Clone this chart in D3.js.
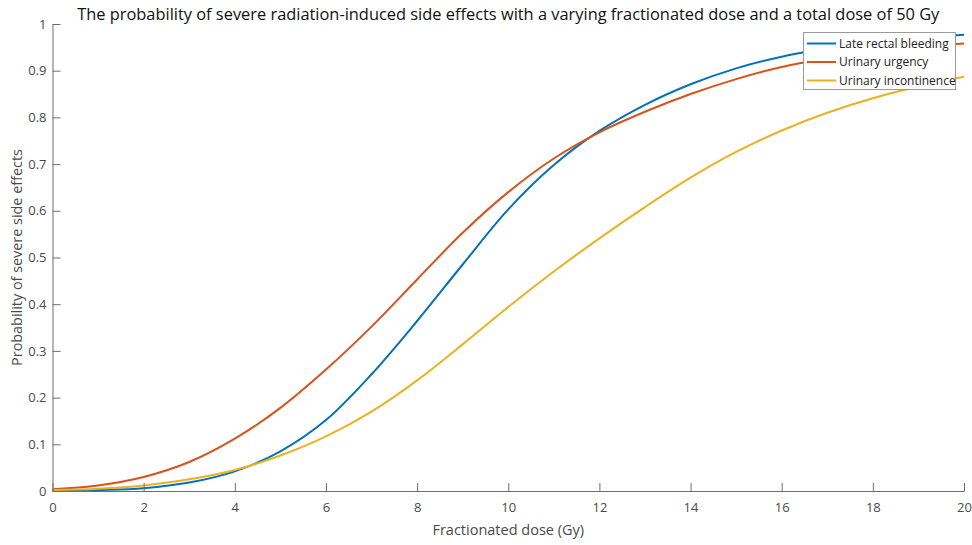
<!DOCTYPE html>
<html>
<head>
<meta charset="utf-8">
<script src="https://cdn.jsdelivr.net/npm/d3@7"></script>
<style>
  html, body { margin: 0; padding: 0; background: #fff; }
  svg { display: block; font-family: "Open Sans", "Noto Sans", sans-serif; }
</style>
</head>
<body>
<svg id="chart" width="972" height="545"></svg>
<script>
const titleText = "The probability of severe radiation-induced side effects with a varying fractionated dose and a total dose of 50 Gy";
const xLabel = "Fractionated dose (Gy)";
const yLabel = "Probability of severe side effects";
const seriesNames = ["Late rectal bleeding", "Urinary urgency", "Urinary incontinence"];
const seriesColors = ["#0072BD", "#D95319", "#EDB120"];

const doses = [0, 1, 2, 3, 4, 5, 6, 7, 8, 9, 10, 11, 12, 13, 14, 15, 16, 17, 18, 19, 20];
const lateRectalBleeding = [0.000, 0.002, 0.006, 0.018, 0.042, 0.085, 0.152, 0.250, 0.364, 0.485, 0.603, 0.698, 0.771, 0.827, 0.871, 0.905, 0.930, 0.948, 0.961, 0.970, 0.977];
const urinaryUrgency     = [0.004, 0.012, 0.030, 0.062, 0.112, 0.178, 0.260, 0.352, 0.453, 0.553, 0.640, 0.712, 0.768, 0.812, 0.850, 0.882, 0.908, 0.926, 0.940, 0.950, 0.958];
const urinaryIncontinence= [0.002, 0.005, 0.012, 0.025, 0.045, 0.076, 0.117, 0.170, 0.237, 0.314, 0.394, 0.470, 0.541, 0.608, 0.671, 0.726, 0.772, 0.810, 0.841, 0.866, 0.887];

const xTicks = [0, 2, 4, 6, 8, 10, 12, 14, 16, 18, 20];
const yTicks = [0, 0.1, 0.2, 0.3, 0.4, 0.5, 0.6, 0.7, 0.8, 0.9, 1];

const seriesValues = [lateRectalBleeding, urinaryUrgency, urinaryIncontinence];

(function () {
const svg = d3.select("#chart");
const mLeft = 52.5, mRight = 964, mTop = 24, mBottom = 491;
const x = d3.scaleLinear().domain([0, 20]).range([mLeft, mRight]);
const y = d3.scaleLinear().domain([0, 1]).range([mBottom, mTop]);
const axisColor = "#6e6e6e";
const textColor = "#4a4a4a";

// Lines
const line = d3.line().x(d => x(d[0])).y(d => y(d[1])).curve(d3.curveCatmullRom.alpha(0.5));
seriesValues.forEach((vals, i) => {
  svg.append("path")
    .datum(doses.map((d, j) => [d, vals[j]]))
    .attr("fill", "none")
    .attr("stroke", seriesColors[i])
    .attr("stroke-width", 2)
    .attr("d", line);
});

// Axes (ticks inward)
const xAxis = d3.axisBottom(x).tickValues(xTicks).tickSizeInner(-8).tickSizeOuter(0).tickPadding(12).tickFormat(d3.format("d"));
const yAxis = d3.axisLeft(y).tickValues(yTicks).tickSizeInner(-8).tickSizeOuter(0).tickPadding(12).tickFormat(d => d === 0 || d === 1 ? String(d) : d3.format(".1f")(d));

const gx = svg.append("g").attr("transform", `translate(0,${mBottom})`).call(xAxis);
const gy = svg.append("g").attr("transform", `translate(${mLeft},0)`).call(yAxis);
[gx, gy].forEach(g => {
  g.select(".domain").attr("stroke", axisColor).attr("stroke-width", 1);
  g.selectAll(".tick line").attr("stroke", axisColor).attr("stroke-width", 1);
  g.selectAll(".tick text").attr("fill", textColor).attr("font-size", 13)
    .attr("font-family", "'Open Sans', 'Noto Sans', sans-serif");
});
gy.selectAll(".tick text").attr("dx", 6);

// Title
svg.append("text")
  .attr("x", (mLeft + mRight) / 2).attr("y", 20)
  .attr("text-anchor", "middle")
  .attr("font-size", 16.4)
  .attr("fill", "#111")
  .text(titleText);

// Axis labels
svg.append("text")
  .attr("x", (mLeft + mRight) / 2).attr("y", 535)
  .attr("text-anchor", "middle")
  .attr("font-size", 14.5)
  .attr("fill", textColor)
  .text(xLabel);

svg.append("text")
  .attr("transform", `translate(22,${(mTop + mBottom) / 2}) rotate(-90)`)
  .attr("text-anchor", "middle")
  .attr("font-size", 14.4)
  .attr("fill", textColor)
  .text(yLabel);

// Legend
const lg = svg.append("g");
lg.append("rect")
  .attr("x", 803.5).attr("y", 32.5).attr("width", 152).attr("height", 57)
  .attr("fill", "#fff").attr("stroke", "#9a9a9a").attr("stroke-width", 1);
const rowY = [43.5, 62, 80.5];
seriesNames.forEach((name, i) => {
  lg.append("line")
    .attr("x1", 807).attr("x2", 836)
    .attr("y1", rowY[i]).attr("y2", rowY[i])
    .attr("stroke", seriesColors[i]).attr("stroke-width", 2);
  lg.append("text")
    .attr("x", 839).attr("y", rowY[i])
    .attr("dy", "0.35em")
    .attr("font-size", 12)
    .attr("fill", "#222")
    .text(name);
});
})();
</script>
</body>
</html>
